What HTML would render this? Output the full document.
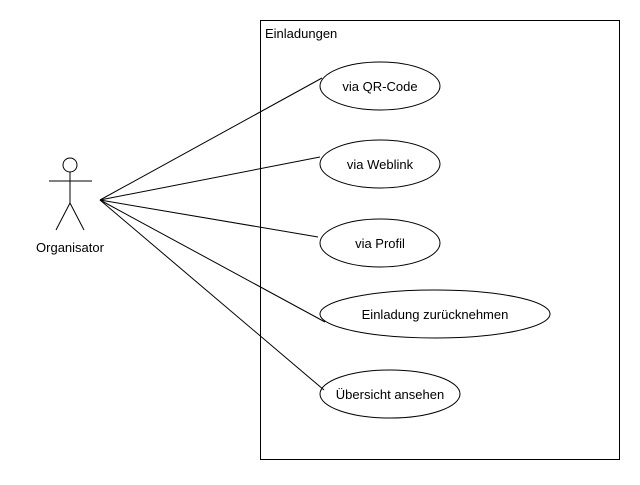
<!DOCTYPE html>
<html><head><meta charset="utf-8"><style>body{margin:0;background:#fff}</style></head><body>
<svg width="640" height="480" xmlns="http://www.w3.org/2000/svg" font-family="Liberation Sans, Arial, sans-serif" font-size="13">
<rect x="0" y="0" width="640" height="480" fill="#fff"/>
<rect x="260.5" y="20.5" width="359" height="439" fill="none" stroke="#000"/>
<text x="265" y="38">Einladungen</text>
<g stroke="#000" fill="none">
<circle cx="70" cy="165" r="7"/>
<line x1="70" y1="172" x2="70" y2="203"/>
<line x1="49" y1="181" x2="92" y2="181"/>
<line x1="70" y1="203" x2="56" y2="230"/>
<line x1="70" y1="203" x2="84" y2="230"/>
<line x1="100" y1="200" x2="322" y2="78"/>
<line x1="100" y1="200" x2="320" y2="157"/>
<line x1="100" y1="200" x2="318" y2="237"/>
<line x1="100" y1="200" x2="325" y2="322"/>
<line x1="100" y1="200" x2="324" y2="390"/>
<ellipse cx="380" cy="86" rx="60" ry="24"/>
<ellipse cx="380" cy="164" rx="60" ry="24"/>
<ellipse cx="380" cy="243" rx="60" ry="24"/>
<ellipse cx="435" cy="314" rx="115" ry="24"/>
<ellipse cx="390" cy="394" rx="70" ry="24"/>
</g>
<g text-anchor="middle">
<text x="70" y="252">Organisator</text>
<text x="380" y="91">via QR-Code</text>
<text x="380" y="169">via Weblink</text>
<text x="380" y="248">via Profil</text>
<text x="435" y="319">Einladung zurücknehmen</text>
<text x="390" y="399">Übersicht ansehen</text>
</g>
</svg>
</body></html>
